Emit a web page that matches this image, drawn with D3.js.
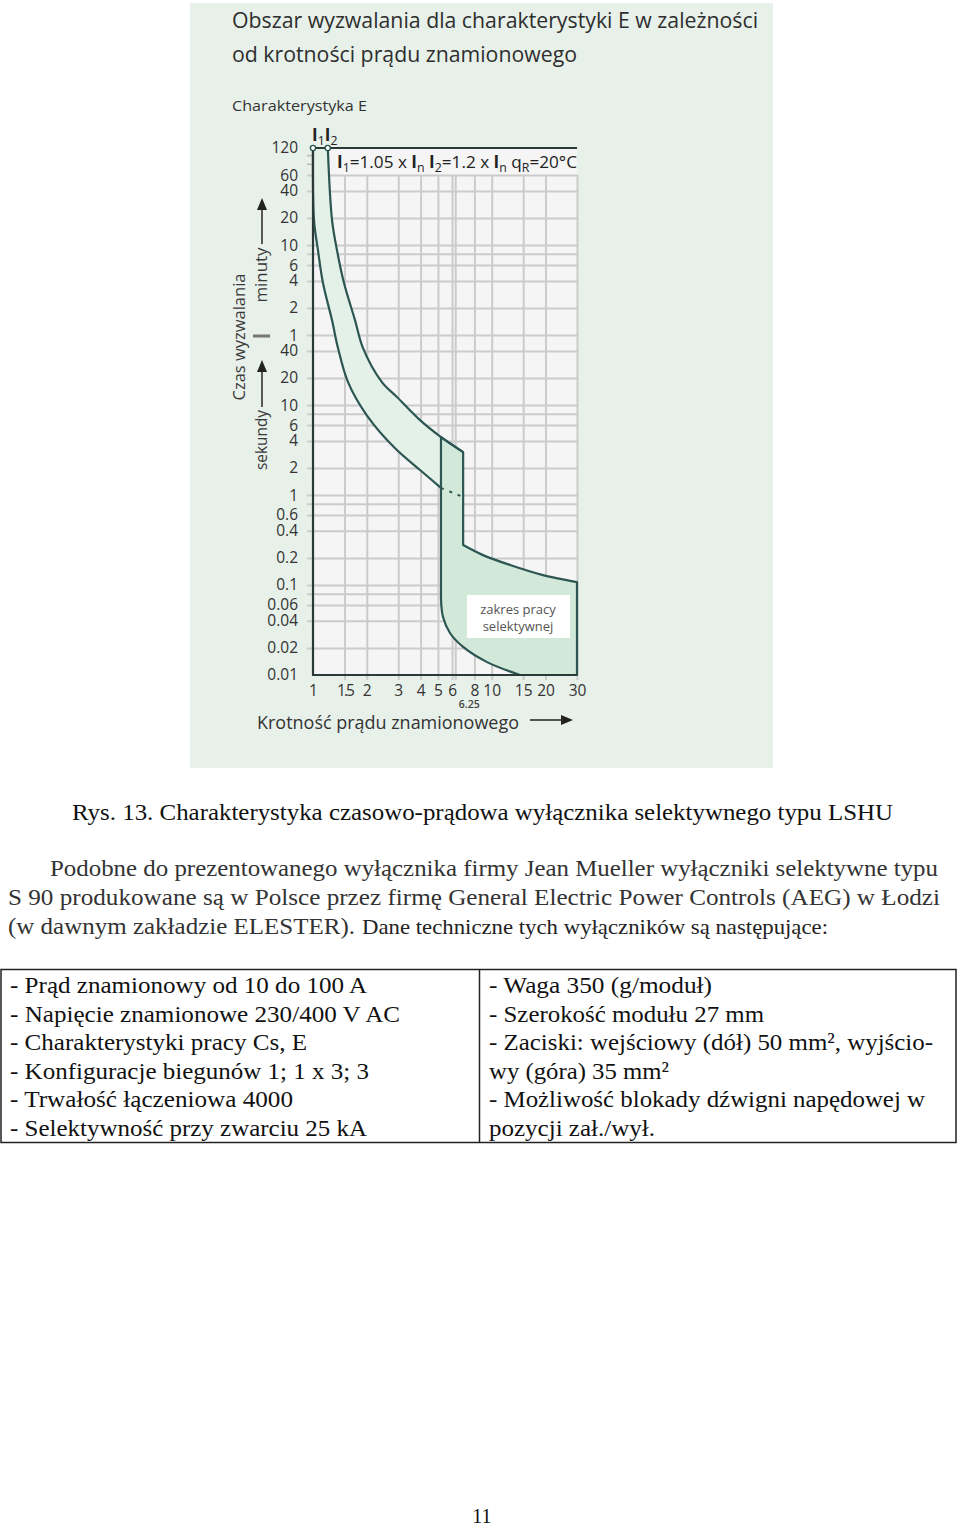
<!DOCTYPE html>
<html><head><meta charset="utf-8">
<script src="https://cdn.jsdelivr.net/npm/d3@7"></script>
<style>body{margin:0;background:#fff}svg{display:block}</style>
</head><body>
<svg id="c" width="960" height="1526"></svg>
<script>
// ---- data (x: multiple of In, t: seconds) ----
const xTickValues = [1, 1.5, 2, 3, 4, 5, 6, 8, 10, 15, 20, 30];
const xTickLabels = ["1", "1.5", "2", "3", "4", "5", "6", "8", "10", "15", "20", "30"];
const yTickValues = [7200, 3600, 2400, 1200, 600, 360, 240, 120, 60, 40, 20, 10, 6, 4, 2, 1, 0.6, 0.4, 0.2, 0.1, 0.06, 0.04, 0.02, 0.01];
const yTickLabels = ["120", "60", "40", "20", "10", "6", "4", "2", "1", "40", "20", "10", "6", "4", "2", "1", "0.6", "0.4", "0.2", "0.1", "0.06", "0.04", "0.02", "0.01"];
const xGridValues = [1.5, 2, 3, 4, 5, 6, 6.25, 8, 10, 15, 20, 30];
const yGridValues = [3600, 2400, 1200, 600, 480, 360, 240, 120, 60, 40, 20, 10, 8, 6, 4, 2, 1, 0.8, 0.6, 0.4, 0.2, 0.1, 0.08, 0.06, 0.04, 0.02];
const yMinorTicks = [6000, 4800];

const curveI1X = [1.0, 1.013, 1.066, 1.137, 1.277, 1.38, 1.57, 2.0, 2.87, 3.97, 5.2];
const curveI1T = [7200, 1136, 527, 227, 88, 43, 18, 7.7, 3.33, 1.9, 1.2];
const curveI2X = [1.21, 1.278, 1.362, 1.491, 1.718, 1.905, 2.43, 2.95, 3.97, 5.2, 6.92];
const curveI2T = [7200, 1136, 527, 227, 88, 43, 18, 12.3, 6.8, 4.41, 3.0];
const dashedX = [5.2, 6.92];
const dashedT = [1.2, 0.95];

const selTopX = [5.2, 6.92];
const selTopT = [4.41, 3.0];
const selRightX = [6.92, 8.94, 12.67, 19.36, 30];
const selRightT = [0.278, 0.215, 0.167, 0.129, 0.108];
const selBottomX = [30, 30, 14.4];
const selBottomT = [0.108, 0.01, 0.01];
const selLeftX = [14.4, 9.42, 6.92, 5.84, 5.34, 5.2];
const selLeftT = [0.01, 0.0139, 0.0205, 0.0293, 0.0441, 0.07];

const tableLeft = ["- Prąd znamionowy od 10 do 100 A", "- Napięcie znamionowe 230/400 V AC", "- Charakterystyki pracy Cs, E", "- Konfiguracje biegunów 1; 1 x 3; 3", "- Trwałość łączeniowa 4000", "- Selektywność przy zwarciu 25 kA"];
const tableLeftW = [357, 390, 297, 359, 283, 357];
const tableRight = ["- Waga 350 (g/moduł)", "- Szerokość modułu 27 mm", "- Zaciski: wejściowy (dół) 50 mm², wyjścio-", "wy (góra) 35 mm²", "- Możliwość blokady dźwigni napędowej w", "pozycji zał./wył."];
const tableRightW = [223, 275, 444, 180, 436, 166];

// ---- setup ----
const svg = d3.select("#c");
const SANS = "'Open Sans', 'Noto Sans', sans-serif";
const SERIF = "'Times New Roman', 'Liberation Serif', Times, serif";
const DARK = "#2c5652";

svg.append("rect").attr("width", 960).attr("height", 1526).attr("fill", "#fff");
svg.append("rect").attr("x", 190).attr("y", 3).attr("width", 583).attr("height", 765).attr("fill", "#e8f0ea");

const x = d3.scaleLog().domain([1, 30]).range([313, 577]);
const y = d3.scaleLog().domain([0.01, 7200]).range([675, 148]);

svg.append("rect").attr("x", x(1)).attr("y", y(7200)).attr("width", x(30) - x(1)).attr("height", y(0.01) - y(7200)).attr("fill", "#f4f5f4");

// grid
const gH = svg.append("g").attr("transform", `translate(${x(1) - 6},0)`)
  .call(d3.axisRight(y).tickValues(yGridValues).tickFormat("").tickSizeInner(x(30) - x(1) + 6).tickSizeOuter(0));
gH.select(".domain").remove();
gH.selectAll("line").attr("stroke", "#cbcbcb").attr("stroke-width", 2);

const gM = svg.append("g").attr("transform", `translate(${x(1) - 6},0)`)
  .call(d3.axisRight(y).tickValues(yMinorTicks).tickFormat("").tickSizeInner(6).tickSizeOuter(0));
gM.select(".domain").remove();
gM.selectAll("line").attr("stroke", "#bbb").attr("stroke-width", 1.5);

const gV = svg.append("g").attr("transform", `translate(0,${y(3600)})`)
  .call(d3.axisBottom(x).tickValues(xGridValues).tickFormat("").tickSizeInner(y(0.01) - y(3600) + 5).tickSizeOuter(0));
gV.select(".domain").remove();
gV.selectAll("line").attr("stroke", "#cbcbcb").attr("stroke-width", 2);

// curves
const P = (xs, ts) => d3.zip(xs, ts).map(d => [x(d[0]), y(d[1])]);
const lineC = d3.line().curve(d3.curveCatmullRom.alpha(0.5));
const lineL = d3.line();
const seg = (pts, gen) => (gen || lineC)(pts).replace(/^M/, "L");

const i1 = P(curveI1X, curveI1T);
const i2 = P(curveI2X, curveI2T);
const dashed = P(dashedX, dashedT);

// band fill
const bandD = lineC(i1) + seg(dashed, lineL) + seg(i2.slice().reverse()) + "Z";
svg.append("path").attr("d", bandD).attr("fill", "#e4f1e8");

// selective zone
const selD = lineL(P(selTopX, selTopT)) + seg(P(selRightX, selRightT)) + seg(P(selBottomX, selBottomT), lineL) + seg(P(selLeftX, selLeftT)) + "Z";
svg.append("path").attr("d", selD).attr("fill", "#d2e8d8").attr("stroke", DARK).attr("stroke-width", 2.2).attr("stroke-linejoin", "round");

svg.append("path").attr("d", lineC(i1)).attr("fill", "none").attr("stroke", DARK).attr("stroke-width", 2.2);
svg.append("path").attr("d", lineC(i2)).attr("fill", "none").attr("stroke", DARK).attr("stroke-width", 2.2);
svg.append("path").attr("d", lineL(dashed)).attr("fill", "none").attr("stroke", DARK).attr("stroke-width", 2).attr("stroke-dasharray", "3,6");

// selective label box
svg.append("rect").attr("x", 467).attr("y", 595).attr("width", 103).attr("height", 43).attr("fill", "#fff");
svg.append("text").attr("x", 518).attr("y", 614).attr("text-anchor", "middle").attr("font-family", SANS).attr("font-size", 13).attr("fill", "#555").text("zakres pracy");
svg.append("text").attr("x", 518).attr("y", 631).attr("text-anchor", "middle").attr("font-family", SANS).attr("font-size", 13).attr("fill", "#555").text("selektywnej");

// axes frame
svg.append("line").attr("x1", x(1)).attr("x2", x(30)).attr("y1", y(7200)).attr("y2", y(7200)).attr("stroke", "#2a3a38").attr("stroke-width", 2);
svg.append("line").attr("x1", x(1)).attr("x2", x(1)).attr("y1", y(7200)).attr("y2", y(0.01)).attr("stroke", "#2a3a38").attr("stroke-width", 2.2);
svg.append("line").attr("x1", x(1) - 1).attr("x2", x(30)).attr("y1", y(0.01)).attr("y2", y(0.01)).attr("stroke", "#2a3a38").attr("stroke-width", 2.2);

// top circles
svg.append("circle").attr("cx", i1[0][0]).attr("cy", i1[0][1]).attr("r", 2.6).attr("fill", "#fff").attr("stroke", DARK).attr("stroke-width", 1.4);
svg.append("circle").attr("cx", i2[0][0]).attr("cy", i2[0][1]).attr("r", 2.6).attr("fill", "#fff").attr("stroke", DARK).attr("stroke-width", 1.4);

// axis labels
const gy = svg.append("g").attr("transform", `translate(${x(1)},0)`)
  .call(d3.axisLeft(y).tickValues(yTickValues).tickFormat((d, i) => yTickLabels[i]).tickSize(0).tickPadding(15));
gy.select(".domain").remove();
gy.attr("font-family", SANS).attr("font-size", 15.5);
gy.selectAll("text").attr("fill", "#333");

const gx = svg.append("g").attr("transform", `translate(0,${y(0.01)})`)
  .call(d3.axisBottom(x).tickValues(xTickValues).tickFormat((d, i) => xTickLabels[i]).tickSize(0).tickPadding(10));
gx.select(".domain").remove();
gx.attr("font-family", SANS).attr("font-size", 15.5);
gx.selectAll("text").attr("fill", "#333").attr("letter-spacing", (d) => d === 1.5 ? -2 : 0);

svg.append("text").attr("x", x(6.25) + 14).attr("y", 708).attr("text-anchor", "middle").attr("font-family", SANS).attr("font-size", 10.5).attr("font-weight", 600).attr("fill", "#444").text("6.25");

// titles
const T = (xx, yy, s, size, opts = {}) => {
  const t = svg.append("text").attr("x", xx).attr("y", yy).attr("font-family", opts.family || SANS).attr("font-size", size).attr("fill", opts.fill || "#333").text(s);
  if (opts.w) t.attr("textLength", opts.w).attr("lengthAdjust", "spacingAndGlyphs");
  if (opts.anchor) t.attr("text-anchor", opts.anchor);
  if (opts.weight) t.attr("font-weight", opts.weight);
  return t;
};
T(232, 28, "Obszar wyzwalania dla charakterystyki E w zależności", 21, {w: 526, fill: "#2e2e2e"});
T(232, 62, "od krotności prądu znamionowego", 21, {w: 345, fill: "#2e2e2e"});
T(232, 111, "Charakterystyka E", 15, {w: 135});
T(257, 729, "Krotność prądu znamionowego", 18, {w: 262});

// x-axis arrow
svg.append("line").attr("x1", 530).attr("x2", 563).attr("y1", 720).attr("y2", 720).attr("stroke", "#222").attr("stroke-width", 1.6);
svg.append("path").attr("d", "M573,720L561,715L561,725Z").attr("fill", "#222");

// y-axis rotated labels
const R = (cx, cy, s, size, w) => svg.append("text").attr("transform", `translate(${cx},${cy}) rotate(-90)`).attr("text-anchor", "middle").attr("font-family", SANS).attr("font-size", size).attr("fill", "#3a3a3a").attr("textLength", w).attr("lengthAdjust", "spacingAndGlyphs").text(s);
R(245, 337, "Czas wyzwalania", 16, 127);
R(267, 275, "minuty", 16, 55);
R(267, 440, "sekundy", 16, 60);
svg.append("line").attr("x1", 262).attr("x2", 262).attr("y1", 244).attr("y2", 206).attr("stroke", "#333").attr("stroke-width", 1.6);
svg.append("path").attr("d", "M262,198L257,210L267,210Z").attr("fill", "#222");
svg.append("line").attr("x1", 262).attr("x2", 262).attr("y1", 407).attr("y2", 368).attr("stroke", "#333").attr("stroke-width", 1.6);
svg.append("path").attr("d", "M262,360L257,372L267,372Z").attr("fill", "#222");
svg.append("line").attr("x1", 253).attr("x2", 270).attr("y1", 336).attr("y2", 336).attr("stroke", "#777").attr("stroke-width", 3);

// I1 I2 labels and formula
function rich(xx, yy, parts, size, w) {
  const t = svg.append("text").attr("x", xx).attr("y", yy).attr("font-family", SANS).attr("font-size", size).attr("fill", "#222");
  let shifted = false;
  parts.forEach(p => {
    const sp = t.append("tspan").text(p.t);
    if (p.b) sp.attr("font-weight", 700);
    if (p.sub) { sp.attr("font-size", size * 0.72).attr("dy", shifted ? 0 : 4); shifted = true; }
    else if (shifted) { sp.attr("dy", -4); shifted = false; }
  });
  if (w) t.attr("textLength", w).attr("lengthAdjust", "spacingAndGlyphs");
}
rich(i1[0][0] - 1, 141, [{t: "I", b: 1}, {t: "1", sub: 1}], 17);
rich(i2[0][0] - 3, 141, [{t: "I", b: 1}, {t: "2", sub: 1}], 17);
rich(337, 168, [{t: "I", b: 1}, {t: "1", sub: 1}, {t: "=1.05 x "}, {t: "I", b: 1}, {t: "n", sub: 1}, {t: " "}, {t: "I", b: 1}, {t: "2", sub: 1}, {t: "=1.2 x "}, {t: "I", b: 1}, {t: "n", sub: 1}, {t: " q"}, {t: "R", sub: 1}, {t: "=20°C"}], 17, 240);

// document text
T(72, 820, "Rys. 13. Charakterystyka czasowo-prądowa wyłącznika selektywnego typu LSHU", 24, {family: SERIF, fill: "#111", w: 821});
T(50, 876, "Podobne do prezentowanego wyłącznika firmy Jean Mueller wyłączniki selektywne typu", 24, {family: SERIF, fill: "#333", w: 888});
T(8, 905, "S 90 produkowane są w Polsce przez firmę General Electric Power Controls (AEG)  w Łodzi", 24, {family: SERIF, fill: "#333", w: 932});
T(8, 934, "(w dawnym zakładzie ELESTER).", 24, {family: SERIF, fill: "#333", w: 347});
T(362, 934, "Dane techniczne tych wyłączników są następujące:", 22, {family: SERIF, fill: "#222", w: 466});

// table
svg.append("rect").attr("x", 1).attr("y", 969.5).attr("width", 955).attr("height", 173).attr("fill", "none").attr("stroke", "#222").attr("stroke-width", 1.5);
svg.append("line").attr("x1", 479.5).attr("x2", 479.5).attr("y1", 969.5).attr("y2", 1142.5).attr("stroke", "#222").attr("stroke-width", 1.5);
tableLeft.forEach((s, i) => T(10, 993 + i * 28.5, s, 24, {family: SERIF, fill: "#111", w: tableLeftW[i]}));
tableRight.forEach((s, i) => T(489, 993 + i * 28.5, s, 24, {family: SERIF, fill: "#111", w: tableRightW[i]}));

T(482, 1523, "11", 20, {family: SERIF, fill: "#111", anchor: "middle"});
</script>
</body></html>
